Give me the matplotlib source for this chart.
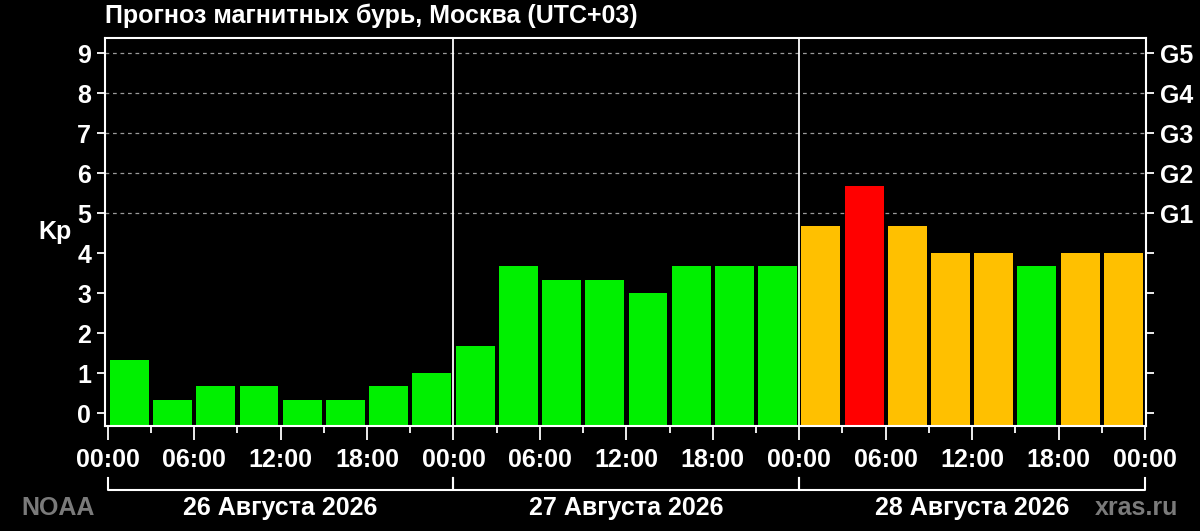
import matplotlib
matplotlib.use("Agg")
import matplotlib.pyplot as plt
from matplotlib.ticker import MultipleLocator

plt.rcParams['font.family'] = ['Liberation Sans', 'DejaVu Sans']
plt.rcParams['font.weight'] = 'bold'

# Kp forecast, 3-hour steps over 3 days
kp = [1.33, 0.33, 0.67, 0.67, 0.33, 0.33, 0.67, 1.00,
      1.67, 3.67, 3.33, 3.33, 3.00, 3.67, 3.67, 3.67,
      4.67, 5.67, 4.67, 4.00, 4.00, 3.67, 4.00, 4.00]
bar_colors = ['g'] * 16 + ['o', 'r', 'o', 'o', 'o', 'g', 'o', 'o']
days = ['26 Августа 2026', '27 Августа 2026', '28 Августа 2026']
hour_labels = ['00:00', '06:00', '12:00', '18:00']
g_levels = ['G1', 'G2', 'G3', 'G4', 'G5']

palette = {'g': '#00f000', 'o': '#ffc000', 'r': '#ff0000'}
FS = 18
YMIN, YMAX = -0.325, 9.375

fig = plt.figure(figsize=(12, 5.31), dpi=100, facecolor='black')
ax = fig.add_axes([0.0875, 0.1977, 0.8675, 0.7307], facecolor='black')

# bars rise from the bottom of the axes, not from zero
x = [3 * i + 1.5 for i in range(len(kp))]
ax.bar(x, [v - YMIN for v in kp], bottom=YMIN, width=2.7,
       color=[palette[c] for c in bar_colors], zorder=2)

ax.set_xlim(-0.19, 72.07)
ax.set_ylim(YMIN, YMAX)

# storm level grid
for lvl in range(5, 10):
    ax.axhline(lvl, color='#9a9a9a', lw=0.9, ls=(0, (3, 3)), zorder=1)
for d in (24, 48):
    ax.axvline(d, color='white', lw=1.3, zorder=3)

for s in ax.spines.values():
    s.set_color('white')
    s.set_linewidth(1.5)

ax.set_yticks(range(10))
ax.tick_params(axis='y', colors='white', labelsize=FS, length=6, width=1.3,
               pad=4, labelcolor='white')
ax.set_xticks(range(0, 73, 6))
ax.set_xticklabels([hour_labels[(h // 6) % 4] for h in range(0, 73, 6)])
ax.xaxis.set_minor_locator(MultipleLocator(3))
ax.tick_params(axis='x', which='major', colors='white', labelsize=FS,
               length=10, width=1.3, pad=6)
ax.tick_params(axis='x', which='minor', colors='white', length=5, width=1.3)

ax2 = ax.twinx()
ax2.set_ylim(ax.get_ylim())
ax2.set_yticks(range(10))
ax2.set_yticklabels([''] * 5 + g_levels)
ax2.tick_params(axis='y', colors='white', labelsize=FS, length=6, width=1.3, pad=4)
for s in ax2.spines.values():
    s.set_visible(False)

ax.set_ylabel('Kp', color='white', fontsize=FS, fontweight='bold', rotation=0,
              va='center', ha='center')
ax.yaxis.set_label_coords(-0.048, 0.5)

# day brackets under the axis
tr = ax.get_xaxis_transform()
for i, day in enumerate(days):
    x0, x1 = 24 * i, 24 * (i + 1)
    ax.plot([x0, x0, x1, x1], [-0.134, -0.165, -0.165, -0.134], color='white',
            lw=1.5, transform=tr, clip_on=False)
    ax.text((x0 + x1) / 2, -0.211, day, transform=tr, color='white',
            fontsize=FS, ha='center', va='center')

fig.text(105 / 1200, 1 - 16 / 531, 'Прогноз магнитных бурь, Москва (UTC+03)',
         color='white', fontsize=FS, ha='left', va='center')
fig.text(21 / 1200, 1 - 508 / 531, 'NOAA', color='#7a7a7a', fontsize=FS,
         ha='left', va='center')
fig.text(1178 / 1200, 1 - 508 / 531, 'xras.ru', color='#7a7a7a', fontsize=FS,
         ha='right', va='center')

fig.savefig('out.png', dpi=100, facecolor='black')
